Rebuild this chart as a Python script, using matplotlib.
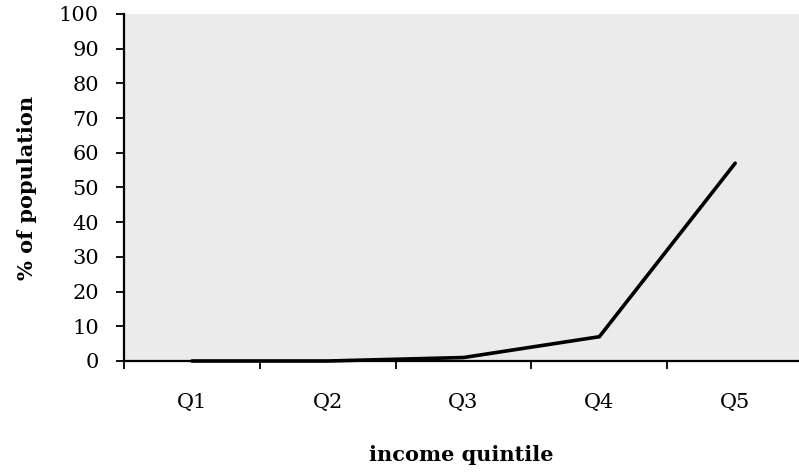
import matplotlib.pyplot as plt

quintiles = ['Q1', 'Q2', 'Q3', 'Q4', 'Q5']
pct_population = [0, 0, 1, 7, 57]
y_ticks = list(range(0, 101, 10))

plt.rcParams['font.family'] = ['DejaVu Serif']

fig = plt.figure(figsize=(7.99, 4.72), dpi=100)
ax = fig.add_axes([124 / 799, 1 - 361 / 472, 675 / 799, 347 / 472])
ax.set_facecolor('#ebebeb')

x = list(range(len(quintiles)))
ax.plot(x, pct_population, color='black', lw=2.6, solid_joinstyle='round',
        solid_capstyle='round', clip_on=False)

ax.set_xlim(-0.5, 4.47)
ax.set_ylim(0, 100)
ax.set_yticks(y_ticks)
ax.set_xticks(x)
ax.set_xticklabels(quintiles)
ax.set_xticks([i - 0.5 for i in range(len(quintiles))], minor=True)
ax.tick_params(axis='x', which='major', length=0, pad=23, labelsize=15)
ax.tick_params(axis='x', which='minor', length=6, width=1.3, direction='out')
ax.tick_params(axis='y', length=6, width=1.3, direction='out', labelsize=15, pad=12)

for side in ['top', 'right']:
    ax.spines[side].set_visible(False)
for side in ['left', 'bottom']:
    ax.spines[side].set_linewidth(1.6)

ax.set_xlabel('income quintile', fontsize=15, fontweight='bold', labelpad=24)
ax.set_ylabel('% of population', fontsize=15, fontweight='bold', labelpad=16)

fig.savefig('out.png', dpi=100)
